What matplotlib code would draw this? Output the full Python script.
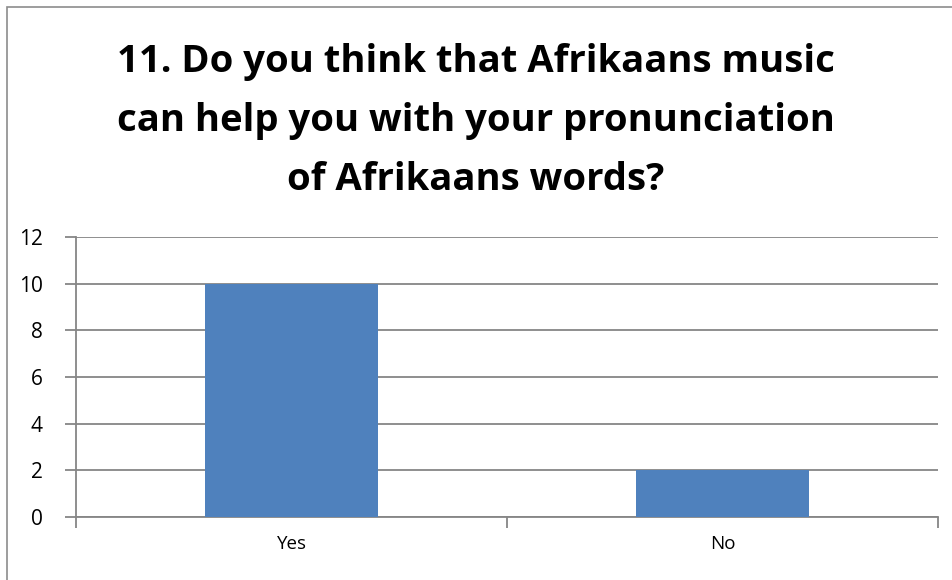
import matplotlib.pyplot as plt
from matplotlib.patches import Rectangle

# survey answers for question 11
answers = ['Yes', 'No']
counts = [10, 2]
y_ticks = [0, 2, 4, 6, 8, 10, 12]

title = ('11. Do you think that Afrikaans music\n'
         'can help you with your pronunciation\n'
         'of Afrikaans words?')

plt.rcParams['font.family'] = ['Open Sans', 'DejaVu Sans']

W, H = 953, 580
fig = plt.figure(figsize=(W / 100, H / 100), dpi=100)

# chart frame (left and top edges visible)
fig.patches.append(Rectangle((7 / W, -0.1), 1.2, (H - 7) / H + 0.1,
                             transform=fig.transFigure, fill=False,
                             edgecolor='#8c8c8c', linewidth=1.2))

ax = fig.add_axes([76 / W, (H - 517) / H, (938 - 76) / W, (517 - 237) / H])

grid_col = '#868686'
ax.bar(range(len(answers)), counts, width=0.4, color='#4f81bd', zorder=3)
ax.set_xlim(-0.5, len(answers) - 0.5)
ax.set_ylim(0, 12)
ax.set_yticks(y_ticks)
ax.yaxis.grid(True, color=grid_col, linewidth=1.3, zorder=0)

for side in ['top', 'right']:
    ax.spines[side].set_visible(False)
for side in ['left', 'bottom']:
    ax.spines[side].set_color(grid_col)
    ax.spines[side].set_linewidth(1.3)

# category boundary ticks on x, labels centred under bars
ax.set_xticks([-0.5, 0.5, 1.5])
ax.set_xticklabels([])
ax.set_xticks(range(len(answers)), minor=True)
ax.set_xticklabels(answers, minor=True)
ax.tick_params(axis='x', which='major', length=8, width=1.3, color=grid_col)
ax.tick_params(axis='x', which='minor', length=0, labelsize=13.5, pad=13)
ax.tick_params(axis='y', length=8, width=1.3, color=grid_col,
               labelsize=15, pad=16)

fig.text(476 / W, 1 - 121 / H, title, ha='center', va='center',
         fontsize=27.5, fontweight='bold', linespacing=1.72)

fig.savefig('out.png', dpi=100)
